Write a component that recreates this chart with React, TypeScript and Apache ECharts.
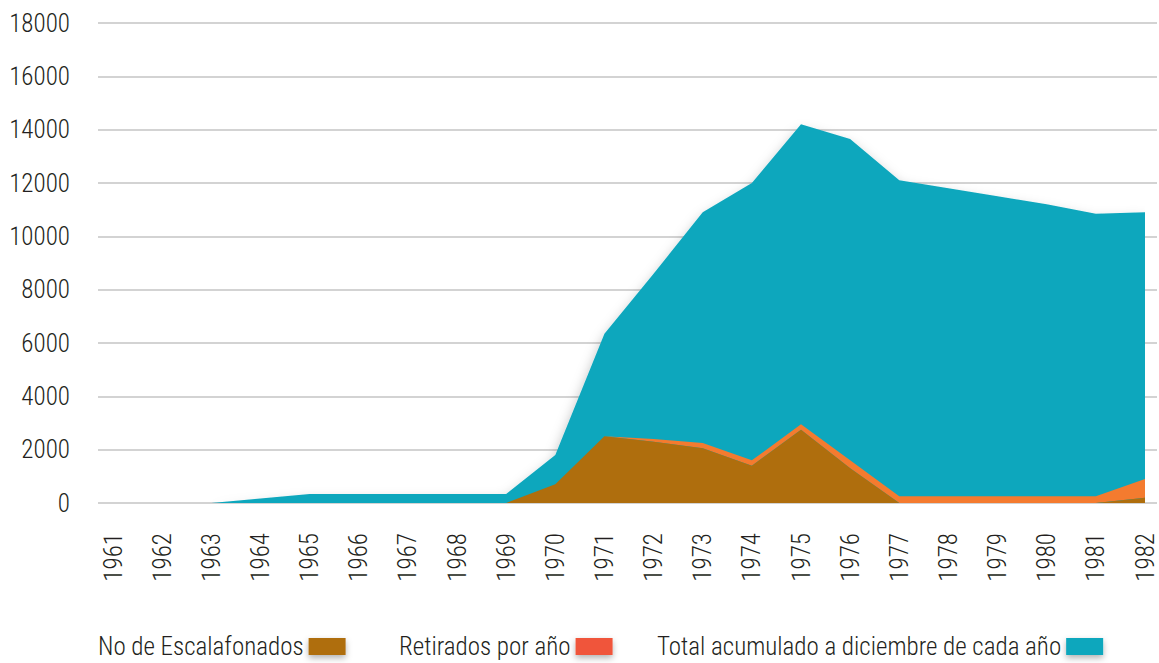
import React, { useEffect, useRef } from "react";
import * as echarts from "echarts";

const years = ["1961","1962","1963","1964","1965","1966","1967","1968","1969","1970","1971","1972","1973","1974","1975","1976","1977","1978","1979","1980","1981","1982"];
const escalafonados = [0,0,0,0,0,0,0,0,0,700,2500,2300,2050,1400,2750,1300,0,0,0,0,0,200];
const retirados = [0,0,0,0,0,0,0,0,0,0,0,100,200,200,200,300,250,250,250,250,250,700];
const totalAcumulado = [0,0,0,170,340,340,340,340,340,1800,6350,8600,10900,12000,14200,13650,12100,11800,11500,11200,10850,10900];
const yTicks = [0,2000,4000,6000,8000,10000,12000,14000,16000,18000];

const seriesNames = ["No de Escalafonados", "Retirados por año", "Total acumulado a diciembre de cada año"];
const legendColors = ["#AF6E0D", "#F0553A", "#10A7BD"];
const legendLefts = [93, 394, 652];

const FONT = "'Roboto Condensed', 'Roboto', sans-serif";
const TEXT = "#231f20";
const shadow = { shadowColor: "rgba(0,0,0,0.35)", shadowBlur: 14, shadowOffsetY: 8 };

export default function App() {
  const ref = useRef<HTMLDivElement>(null);
  useEffect(() => {
    if (!ref.current) return;
    const chart = echarts.init(ref.current, null, { renderer: "svg" });
    chart.setOption({
      animation: false,
      backgroundColor: "#ffffff",
      grid: [
        { left: 98, right: 2, top: 23, bottom: 160, outerBoundsMode: "none" },
        { left: 113, right: 14, top: 23, bottom: 160, outerBoundsMode: "none" },
      ],
      legend: seriesNames.map((name, i) => ({
        left: legendLefts[i],
        top: 629,
        align: "right",
        icon: "rect",
        itemWidth: 37,
        itemHeight: 17,
        textStyle: { fontFamily: FONT, fontSize: 25, lineHeight: 25, fontWeight: 300, color: TEXT },
        data: [{ name, itemStyle: { color: legendColors[i], shadowColor: "rgba(0,0,0,0.3)", shadowBlur: 6, shadowOffsetY: 3 } }],
      })),
      xAxis: [
        { gridIndex: 0, type: "category", data: years, show: false },
        {
          gridIndex: 1,
          type: "category",
          data: years,
          boundaryGap: false,
          axisLine: { show: false },
          axisTick: { show: false },
          axisLabel: { rotate: 90, margin: 30, fontFamily: FONT, fontSize: 25, lineHeight: 24, fontWeight: 300, color: TEXT, interval: 0 },
        },
      ],
      yAxis: [
        {
          gridIndex: 0,
          type: "value",
          min: yTicks[0],
          max: yTicks[yTicks.length - 1],
          interval: 2000,
          axisLine: { show: false },
          axisTick: { show: false },
          axisLabel: { margin: 28, fontFamily: FONT, fontSize: 25, fontWeight: 300, color: TEXT, formatter: (v: number) => String(v) },
          splitLine: { lineStyle: { color: "#d3d3d3", width: 2 } },
        },
        {
          gridIndex: 1,
          type: "value",
          min: yTicks[0],
          max: yTicks[yTicks.length - 1],
          interval: 2000,
          show: false,
          splitLine: { show: false },
        },
      ],
      series: [
        {
          name: seriesNames[2],
          type: "line",
          xAxisIndex: 1,
          yAxisIndex: 1,
          data: totalAcumulado,
          symbol: "none",
          lineStyle: { width: 0 },
          itemStyle: { color: "#10A7BD" },
          areaStyle: { color: "#10A7BD", opacity: 1, ...shadow },
          z: 2,
        },
        {
          name: seriesNames[0],
          type: "line",
          stack: "a",
          xAxisIndex: 1,
          yAxisIndex: 1,
          data: escalafonados,
          symbol: "none",
          lineStyle: { width: 0 },
          itemStyle: { color: "#AF6E0D" },
          areaStyle: { color: "#AF6E0D", opacity: 1 },
          z: 4,
        },
        {
          name: seriesNames[1],
          type: "line",
          stack: "a",
          xAxisIndex: 1,
          yAxisIndex: 1,
          data: retirados,
          symbol: "none",
          lineStyle: { width: 0 },
          itemStyle: { color: "#F47B2F" },
          areaStyle: { color: "#F47B2F", opacity: 1 },
          z: 3,
        },
      ],
    });
    return () => chart.dispose();
  }, []);
  return <div ref={ref} style={{ width: 1159, height: 663, position: "absolute", left: 0, top: 0 }} />;
}
